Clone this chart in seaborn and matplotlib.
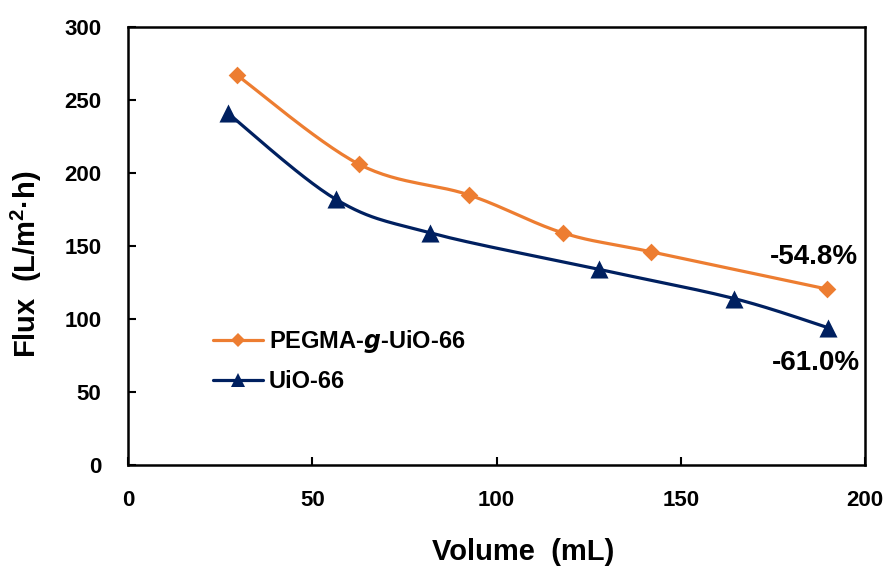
import numpy as np
import pandas as pd
import matplotlib
matplotlib.use("Agg")
import matplotlib.pyplot as plt
from matplotlib.lines import Line2D
import seaborn as sns

# Permeate volume (mL) and flux (L/m2·h) for each membrane
pegma_volume = [29.6, 62.7, 92.5, 118.0, 142.0, 189.7]
pegma_flux = [267, 206, 185, 159, 146, 120.5]
uio_volume = [27.1, 56.4, 82.0, 127.8, 164.5, 190.0]
uio_flux = [241, 182, 159, 134, 114, 94]

series_names = ["PEGMA-$\\boldsymbol{g}$-UiO-66", "UiO-66"]
series_colors = ["#ED7D31", "#002060"]
series_markers = ["D", "^"]
marker_sizes = [9, 13]

x_ticks = [0, 50, 100, 150, 200]
y_ticks = [0, 50, 100, 150, 200, 250, 300]
drop_labels = ["-54.8%", "-61.0%"]

sns.set_theme(style="white")
plt.rcParams["font.family"] = ["Liberation Sans", "DejaVu Sans"]
plt.rcParams["font.weight"] = "bold"
plt.rcParams["text.color"] = "black"
plt.rcParams["axes.labelcolor"] = "black"
plt.rcParams["xtick.color"] = "black"
plt.rcParams["ytick.color"] = "black"
plt.rcParams["mathtext.fontset"] = "custom"
plt.rcParams["mathtext.bf"] = "Liberation Sans:bold"
plt.rcParams["mathtext.it"] = "Liberation Sans:italic:bold"

fig = plt.figure(figsize=(8.93, 5.75), dpi=100)
ax = fig.add_axes([0.1433, 0.1913, 0.8254, 0.7617])
ax.set_xlim(0, 200)
ax.set_ylim(0, 300)

# pixel scale of each axis, so the smoothing is done in screen space
bbox = ax.get_position()
sx = bbox.width * fig.get_figwidth() * fig.dpi / 200.0
sy = bbox.height * fig.get_figheight() * fig.dpi / 300.0


def smooth_curve(xs, ys, n=30):
    """Cubic Bezier smoothing through every point (spreadsheet-style)."""
    p = np.column_stack([np.asarray(xs) * sx, np.asarray(ys) * sy])
    ext = np.vstack([p[0], p, p[-1]])
    out = []
    t = np.linspace(0, 1, n)[:, None]
    for i in range(len(p) - 1):
        p0, p1, p2, p3 = ext[i], ext[i + 1], ext[i + 2], ext[i + 3]
        c1 = p1 + (p2 - p0) / 6.0
        c2 = p2 - (p3 - p1) / 6.0
        seg = ((1 - t) ** 3) * p1 + 3 * ((1 - t) ** 2) * t * c1 + 3 * (1 - t) * t ** 2 * c2 + t ** 3 * p2
        out.append(seg if i == 0 else seg[1:])
    out = np.vstack(out)
    return out[:, 0] / sx, out[:, 1] / sy


data = [(pegma_volume, pegma_flux), (uio_volume, uio_flux)]
handles = []
for (vx, vy), name, col, mk, ms in zip(data, series_names, series_colors, series_markers, marker_sizes):
    cx, cy = smooth_curve(vx, vy)
    ax.plot(cx, cy, color=col, lw=2.3, zorder=2)
    df = pd.DataFrame({"Volume": vx, "Flux": vy})
    sns.scatterplot(data=df, x="Volume", y="Flux", ax=ax, marker=mk, s=ms ** 2,
                    color=col, edgecolor=col, linewidth=0, zorder=3, legend=False)
    handles.append(Line2D([0], [0], color=col, lw=2.3, marker=mk,
                          markersize=ms * 0.8, markeredgewidth=0, label=name))

ax.set_xticks(x_ticks)
ax.set_yticks(y_ticks)
ax.tick_params(axis="both", which="both", direction="in", length=6, width=1.5,
               labelsize=16, colors="black", top=False, right=False,
               bottom=True, left=True)
ax.tick_params(axis="x", pad=18)
ax.tick_params(axis="y", pad=19)
for lab in ax.get_xticklabels() + ax.get_yticklabels():
    lab.set_fontweight("bold")

for sp in ax.spines.values():
    sp.set_visible(True)
    sp.set_color("black")
    sp.set_linewidth(1.8)

ax.set_xlabel("")
ax.set_ylabel("")
fig.text(0.586, 0.040, "Volume  (mL)", ha="center", va="center",
         fontsize=21, fontweight="bold")
fig.text(0.030, 0.541, "Flux  (L/m$\\mathbf{^{2}}$·h)", ha="center", va="center",
         rotation=90, fontsize=21, fontweight="bold")

# relative flux decline labels near the last points
ax.text(186.2, 142.5, drop_labels[0], ha="center", va="center", fontsize=20, fontweight="bold")
ax.text(186.7, 69.9, drop_labels[1], ha="center", va="center", fontsize=20, fontweight="bold")

leg = ax.legend(handles=handles, loc="center left", bbox_to_anchor=(0.1026, 0.2386),
                frameon=False, fontsize=17, handlelength=2.1, handletextpad=0.25,
                labelspacing=0.62, borderaxespad=0)
for t in leg.get_texts():
    t.set_fontweight("bold")

fig.savefig("out.png", dpi=100)
